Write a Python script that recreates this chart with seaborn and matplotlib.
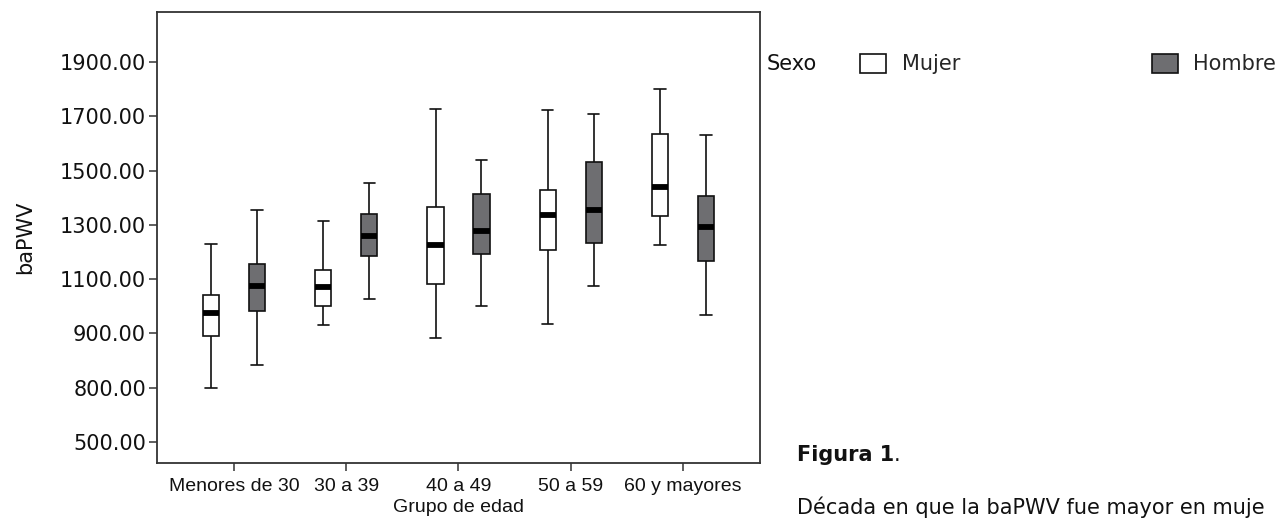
import numpy as np
import pandas as pd
import matplotlib
matplotlib.use("Agg")
import matplotlib.pyplot as plt
import seaborn as sns

# Age groups and sexes
groups = ["Menores de 30", "30 a 39", "40 a 49", "50 a 59", "60 y mayores"]
sexes = ["Mujer", "Hombre"]

# Five-number summaries: [min, Q1, median, Q3, max]
mujer_stats = [
    [699, 891, 976, 1042, 1230],
    [931, 1001, 1071, 1134, 1314],
    [883, 1082, 1226, 1366, 1727],
    [935, 1208, 1337, 1429, 1723],
    [1226, 1333, 1440, 1635, 1801],
]
hombre_stats = [
    [784, 983, 1075, 1156, 1355],
    [1027, 1186, 1259, 1340, 1454],
    [1001, 1193, 1278, 1414, 1539],
    [1075, 1233, 1355, 1532, 1708],
    [968, 1167, 1292, 1406, 1631],
]

# Y ticks (positions on the linear scale) and the labels printed on them
ytick_values = [500, 700, 900, 1100, 1300, 1500, 1700, 1900]
ytick_labels = ["500.00", "800.00", "900.00", "1100.00", "1300.00",
                "1500.00", "1700.00", "1900.00"]

rows = []
for g, ms, hs in zip(groups, mujer_stats, hombre_stats):
    for v in ms:
        rows.append({"Grupo de edad": g, "Sexo": "Mujer", "baPWV": v})
    for v in hs:
        rows.append({"Grupo de edad": g, "Sexo": "Hombre", "baPWV": v})
df = pd.DataFrame(rows)

sns.set_theme(style="white")
plt.rcParams["font.family"] = ["DejaVu Sans"]

W, H = 1280, 523
fig = plt.figure(figsize=(W / 100, H / 100), dpi=100)
ax = fig.add_axes([157 / W, (H - 463) / H, (760 - 157) / W, (463 - 12) / H])

edge = "#111111"
narrow = ["Liberation Sans Narrow", "Liberation Sans"]
sns.boxplot(
    data=df, x="Grupo de edad", y="baPWV", hue="Sexo",
    order=groups, hue_order=sexes,
    palette={"Mujer": "#ffffff", "Hombre": "#6d6d72"},
    whis=(0, 100), width=0.82, gap=0.65, linewidth=1.2, linecolor=edge,
    showfliers=False, capwidths=0.105,
    medianprops=dict(color="black", linewidth=4.2, solid_capstyle="butt"),
    ax=ax, legend=True,
)

ax.set_xlim(-0.69, 4.69)
ax.set_ylim(423, 2084)
ax.set_yticks(ytick_values)
ax.set_yticklabels(ytick_labels)

for s in ax.spines.values():
    s.set_visible(True)
    s.set_color("#333333")
    s.set_linewidth(1.3)

ax.tick_params(axis="both", which="major", direction="out", length=6,
               width=1.1, color="#333333", left=True, bottom=True)
ax.tick_params(axis="y", labelsize=15, pad=2, labelcolor="#111111")
ax.tick_params(axis="x", labelsize=14, pad=5, labelcolor="#111111")
for lbl in ax.get_xticklabels():
    lbl.set_fontfamily(narrow)

ax.set_xlabel("Grupo de edad", fontsize=14, color="#111111",
              family=narrow, labelpad=3)
ax.set_ylabel("baPWV", fontsize=15, color="#111111", labelpad=18)

sns.move_legend(
    ax, loc="center left", bbox_to_anchor=(860 / W, 1 - 64 / H),
    bbox_transform=fig.transFigure, ncol=2, title=None, frameon=False,
    fontsize=15, handlelength=1.25, handleheight=1.05, handletextpad=0.75,
    columnspacing=9.2, borderpad=0, borderaxespad=0,
)
for p in ax.get_legend().get_patches():
    p.set_edgecolor(edge)
    p.set_linewidth(1.2)

fig.text(767 / W, 1 - 64 / H, "Sexo", fontsize=15, va="center", ha="left",
         color="#111111")
t = fig.text(797 / W, 1 - 455 / H, "Figura 1", fontsize=15, fontweight="bold",
             va="center", ha="left", color="#111111")
fig.canvas.draw()
bb = t.get_window_extent()
fig.text(bb.x1 / W, 1 - 455 / H, ".", fontsize=15, va="center", ha="left",
         color="#111111")
fig.text(797 / W, 1 - 507 / H, "Década en que la baPWV fue mayor en muje",
         fontsize=15, va="center", ha="left", color="#111111")

fig.savefig("out.png", dpi=100)
